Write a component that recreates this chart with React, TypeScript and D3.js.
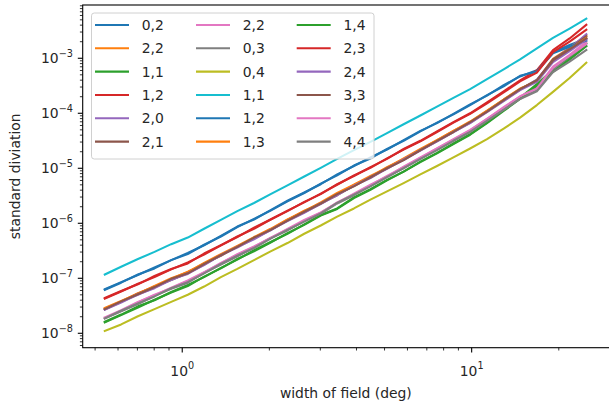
import React from "react";
import * as d3 from "d3";

// x: width of field (deg)
const widthDeg = [0.54, 0.615, 0.703, 0.802, 0.916, 1.045, 1.19, 1.36, 1.55, 1.77, 2.02, 2.31, 2.64, 3.01, 3.43, 3.92, 4.47, 5.1, 5.82, 6.65, 7.59, 8.65, 9.88, 11.3, 12.9, 14.7, 16.8, 19.1, 21.8, 24.9];

// standard deviation series (order as in legend)
const s02 = [6.31e-8, 8.51e-8, 1.15e-7, 1.58e-7, 2.14e-7, 2.88e-7, 3.98e-7, 5.89e-7, 8.71e-7, 1.17e-6, 1.74e-6, 2.57e-6, 3.63e-6, 5.13e-6, 7.76e-6, 1.10e-5, 1.58e-5, 2.19e-5, 3.24e-5, 4.79e-5, 6.61e-5, 9.77e-5, 1.45e-4, 2.09e-4, 3.24e-4, 4.68e-4, 6.03e-4, 1.29e-3, 1.74e-3, 2.29e-3];
const s22a = [2.82e-8, 3.80e-8, 5.37e-8, 6.92e-8, 9.77e-8, 1.32e-7, 1.82e-7, 2.69e-7, 3.72e-7, 5.50e-7, 7.76e-7, 1.15e-6, 1.70e-6, 2.29e-6, 3.39e-6, 5.01e-6, 6.92e-6, 1.05e-5, 1.48e-5, 2.19e-5, 3.24e-5, 4.79e-5, 6.92e-5, 1.10e-4, 1.78e-4, 2.75e-4, 3.98e-4, 9.77e-4, 1.55e-3, 2.63e-3];
const s11a = [1.62e-8, 2.19e-8, 3.09e-8, 3.98e-8, 5.62e-8, 7.59e-8, 1.05e-7, 1.55e-7, 2.19e-7, 3.24e-7, 4.57e-7, 6.46e-7, 9.55e-7, 1.41e-6, 1.86e-6, 2.95e-6, 4.17e-6, 6.17e-6, 8.71e-6, 1.32e-5, 1.91e-5, 2.82e-5, 4.17e-5, 6.76e-5, 1.15e-4, 1.91e-4, 3.39e-4, 6.17e-4, 1.05e-3, 1.86e-3];
const s12a = [4.37e-8, 5.89e-8, 7.76e-8, 1.10e-7, 1.48e-7, 1.86e-7, 2.82e-7, 3.98e-7, 5.62e-7, 8.32e-7, 1.17e-6, 1.66e-6, 2.45e-6, 3.39e-6, 5.13e-6, 7.24e-6, 1.05e-5, 1.48e-5, 2.24e-5, 3.16e-5, 4.68e-5, 6.92e-5, 1.00e-4, 1.58e-4, 2.51e-4, 3.98e-4, 6.03e-4, 1.41e-3, 2.29e-3, 4.07e-3];
const s20 = [2.69e-8, 3.72e-8, 5.01e-8, 6.76e-8, 9.55e-8, 1.20e-7, 1.78e-7, 2.63e-7, 3.63e-7, 5.25e-7, 7.41e-7, 1.12e-6, 1.58e-6, 2.24e-6, 3.31e-6, 4.79e-6, 6.61e-6, 1.00e-5, 1.41e-5, 2.09e-5, 3.09e-5, 4.57e-5, 6.76e-5, 1.07e-4, 1.70e-4, 2.69e-4, 4.07e-4, 9.33e-4, 1.51e-3, 2.75e-3];
const s21 = [2.75e-8, 3.72e-8, 5.25e-8, 7.08e-8, 9.33e-8, 1.26e-7, 1.86e-7, 2.57e-7, 3.80e-7, 5.37e-7, 7.59e-7, 1.15e-6, 1.62e-6, 2.34e-6, 3.24e-6, 4.90e-6, 6.76e-6, 1.02e-5, 1.45e-5, 2.14e-5, 3.16e-5, 4.68e-5, 6.76e-5, 1.10e-4, 1.74e-4, 2.69e-4, 3.89e-4, 9.55e-4, 1.48e-3, 2.51e-3];
const s22b = [1.91e-8, 2.57e-8, 3.63e-8, 5.01e-8, 6.61e-8, 8.91e-8, 1.26e-7, 1.91e-7, 2.69e-7, 3.72e-7, 5.50e-7, 7.76e-7, 1.12e-6, 1.55e-6, 2.40e-6, 3.39e-6, 4.90e-6, 7.24e-6, 1.05e-5, 1.55e-5, 2.29e-5, 3.31e-5, 4.90e-5, 7.94e-5, 1.26e-4, 2.00e-4, 2.88e-4, 7.08e-4, 1.15e-3, 2.00e-3];
const s03 = [1.86e-8, 2.51e-8, 3.39e-8, 4.79e-8, 6.46e-8, 8.32e-8, 1.26e-7, 1.78e-7, 2.51e-7, 3.63e-7, 5.37e-7, 7.41e-7, 1.10e-6, 1.48e-6, 2.29e-6, 3.24e-6, 4.79e-6, 6.92e-6, 1.02e-5, 1.48e-5, 2.19e-5, 3.16e-5, 4.68e-5, 7.41e-5, 1.17e-4, 1.86e-4, 2.63e-4, 6.17e-4, 9.77e-4, 1.66e-3];
const s04 = [1.10e-8, 1.45e-8, 2.04e-8, 2.75e-8, 3.72e-8, 5.01e-8, 7.08e-8, 1.05e-7, 1.48e-7, 2.14e-7, 3.09e-7, 4.37e-7, 6.46e-7, 9.12e-7, 1.32e-6, 1.86e-6, 2.69e-6, 3.80e-6, 5.37e-6, 7.76e-6, 1.10e-5, 1.58e-5, 2.29e-5, 3.39e-5, 5.25e-5, 8.32e-5, 1.41e-4, 2.45e-4, 4.37e-4, 8.32e-4];
const s11b = [1.17e-7, 1.62e-7, 2.24e-7, 3.02e-7, 4.17e-7, 5.50e-7, 7.94e-7, 1.15e-6, 1.66e-6, 2.34e-6, 3.39e-6, 4.90e-6, 7.08e-6, 1.02e-5, 1.48e-5, 2.14e-5, 3.02e-5, 4.37e-5, 6.31e-5, 9.12e-5, 1.32e-4, 1.91e-4, 2.75e-4, 4.17e-4, 6.31e-4, 9.55e-4, 1.51e-3, 2.34e-3, 3.47e-3, 5.25e-3];
const s12b = [6.17e-8, 8.32e-8, 1.17e-7, 1.51e-7, 2.14e-7, 2.75e-7, 4.07e-7, 5.75e-7, 8.51e-7, 1.20e-6, 1.70e-6, 2.51e-6, 3.55e-6, 5.25e-6, 7.41e-6, 1.12e-5, 1.51e-5, 2.24e-5, 3.16e-5, 4.68e-5, 6.76e-5, 9.55e-5, 1.41e-4, 2.14e-4, 3.09e-4, 4.79e-4, 5.75e-4, 1.23e-3, 1.62e-3, 2.09e-3];
const s13 = [2.88e-8, 3.89e-8, 5.25e-8, 7.24e-8, 1.00e-7, 1.29e-7, 1.91e-7, 2.75e-7, 3.89e-7, 5.62e-7, 7.94e-7, 1.17e-6, 1.66e-6, 2.40e-6, 3.55e-6, 5.01e-6, 7.24e-6, 1.02e-5, 1.51e-5, 2.24e-5, 3.24e-5, 4.79e-5, 7.08e-5, 1.12e-4, 1.78e-4, 2.82e-4, 3.80e-4, 8.91e-4, 1.45e-3, 2.34e-3];
const s14 = [1.58e-8, 2.14e-8, 2.95e-8, 4.07e-8, 5.50e-8, 7.24e-8, 1.07e-7, 1.51e-7, 2.24e-7, 3.09e-7, 4.47e-7, 6.61e-7, 9.33e-7, 1.38e-6, 1.82e-6, 2.88e-6, 4.07e-6, 6.03e-6, 8.71e-6, 1.29e-5, 1.86e-5, 2.75e-5, 4.07e-5, 6.61e-5, 1.10e-4, 1.82e-4, 3.16e-4, 5.62e-4, 9.55e-4, 1.66e-3];
const s23 = [4.27e-8, 5.75e-8, 7.94e-8, 1.05e-7, 1.45e-7, 1.95e-7, 2.69e-7, 3.98e-7, 5.75e-7, 7.94e-7, 1.17e-6, 1.70e-6, 2.40e-6, 3.47e-6, 5.01e-6, 7.41e-6, 1.02e-5, 1.51e-5, 2.19e-5, 3.09e-5, 4.57e-5, 6.76e-5, 9.77e-5, 1.51e-4, 2.40e-4, 3.80e-4, 5.50e-4, 1.29e-3, 2.00e-3, 3.31e-3];
const s24 = [2.69e-8, 3.63e-8, 5.13e-8, 6.61e-8, 9.33e-8, 1.23e-7, 1.74e-7, 2.63e-7, 3.72e-7, 5.13e-7, 7.59e-7, 1.10e-6, 1.55e-6, 2.29e-6, 3.24e-6, 4.79e-6, 6.92e-6, 9.77e-6, 1.45e-5, 2.14e-5, 3.09e-5, 4.57e-5, 6.61e-5, 1.05e-4, 1.66e-4, 2.63e-4, 3.72e-4, 8.51e-4, 1.35e-3, 2.19e-3];
const s33 = [2.75e-8, 3.80e-8, 5.13e-8, 6.92e-8, 9.77e-8, 1.23e-7, 1.82e-7, 2.63e-7, 3.72e-7, 5.50e-7, 7.59e-7, 1.12e-6, 1.62e-6, 2.29e-6, 3.39e-6, 4.68e-6, 6.92e-6, 1.00e-5, 1.41e-5, 2.14e-5, 3.16e-5, 4.57e-5, 6.92e-5, 1.07e-4, 1.74e-4, 2.75e-4, 3.98e-4, 9.12e-4, 1.45e-3, 2.29e-3];
const s34 = [1.95e-8, 2.63e-8, 3.72e-8, 4.90e-8, 6.76e-8, 9.12e-8, 1.29e-7, 1.86e-7, 2.75e-7, 3.80e-7, 5.37e-7, 7.94e-7, 1.15e-6, 1.58e-6, 2.34e-6, 3.47e-6, 5.01e-6, 7.08e-6, 1.07e-5, 1.58e-5, 2.29e-5, 3.39e-5, 5.01e-5, 7.94e-5, 1.29e-4, 2.04e-4, 2.82e-4, 6.76e-4, 1.10e-3, 1.82e-3];
const s44 = [1.86e-8, 2.57e-8, 3.47e-8, 4.68e-8, 6.61e-8, 8.51e-8, 1.23e-7, 1.82e-7, 2.57e-7, 3.55e-7, 5.25e-7, 7.59e-7, 1.07e-6, 1.51e-6, 2.34e-6, 3.31e-6, 4.68e-6, 6.92e-6, 1.00e-5, 1.48e-5, 2.14e-5, 3.16e-5, 4.57e-5, 7.24e-5, 1.15e-4, 1.82e-4, 2.51e-4, 5.62e-4, 8.71e-4, 1.41e-3];

const seriesLabels = ["0,2", "2,2", "1,1", "1,2", "2,0", "2,1", "2,2", "0,3", "0,4", "1,1", "1,2", "1,3", "1,4", "2,3", "2,4", "3,3", "3,4", "4,4"];
const seriesValues = [s02, s22a, s11a, s12a, s20, s21, s22b, s03, s04, s11b, s12b, s13, s14, s23, s24, s33, s34, s44];
const palette = ["#1f77b4", "#ff7f0e", "#2ca02c", "#d62728", "#9467bd", "#8c564b", "#e377c2", "#7f7f7f", "#bcbd22", "#17becf"];

const xMajorTicks = [1, 10];
const xMajorExp = ["0", "1"];
const yMajorTicks = [1e-8, 1e-7, 1e-6, 1e-5, 1e-4, 1e-3];
const yMajorExp = ["\u22128", "\u22127", "\u22126", "\u22125", "\u22124", "\u22123"];

const W = 609, H = 407;
const L = 82.7, R = 611, T = 5, B = 347.7;
const FONT = "DejaVu Sans, sans-serif";

export default function App() {
  const x = d3.scaleLog().domain([0.453, 30.3]).range([L, R]);
  const y = d3.scaleLog().domain([5.47e-9, 9.3e-3]).range([B, T]);

  const xMinor: number[] = [];
  for (let e = -1; e <= 1; e++) for (let m = 2; m <= 9; m++) {
    const v = m * Math.pow(10, e);
    if (v >= 0.453 && v <= 30.3) xMinor.push(v);
  }
  const yMinor: number[] = [];
  for (let e = -9; e <= -3; e++) for (let m = 2; m <= 9; m++) {
    const v = m * Math.pow(10, e);
    if (v >= 5.47e-9 && v <= 9.3e-3) yMinor.push(v);
  }

  const line = d3.line<number>()
    .x((_, i) => x(widthDeg[i]))
    .y((d) => y(d));

  const legX0 = [95, 196, 296.7];
  const rowY0 = 25, rowStep = 23.33;

  return (
    <svg width={W} height={H} style={{ position: "absolute", left: 0, top: 0 }} fontFamily={FONT}>
      <rect x={0} y={0} width={W} height={H} fill="#fff" />
      <defs>
        <clipPath id="plotclip">
          <rect x={L} y={T} width={R - L} height={B - T} />
        </clipPath>
      </defs>
      <g clipPath="url(#plotclip)">
        {seriesValues.map((vals, i) => (
          <path key={i} d={line(vals) || ""} fill="none" stroke={palette[i % 10]} strokeWidth={2.08} strokeLinejoin="round" strokeLinecap="square" />
        ))}
      </g>
      {/* spines */}
      <rect x={L} y={T} width={R - L} height={B - T} fill="none" stroke="#000" strokeWidth={1.1} />
      {/* x ticks */}
      {xMinor.map((v, i) => (
        <line key={"xm" + i} x1={x(v)} x2={x(v)} y1={B} y2={B + 2.8} stroke="#000" strokeWidth={0.8} />
      ))}
      {xMajorTicks.map((v, i) => (
        <g key={"xM" + i}>
          <line x1={x(v)} x2={x(v)} y1={B} y2={B + 4.9} stroke="#000" strokeWidth={1.1} />
          <text x={x(v)} y={375.5} textAnchor="middle" fontSize={13.9} fill="#262626">
            10<tspan dy={-6.5} fontSize={9.7}>{xMajorExp[i]}</tspan>
          </text>
        </g>
      ))}
      {/* y ticks */}
      {yMinor.map((v, i) => (
        <line key={"ym" + i} x1={L - 2.8} x2={L} y1={y(v)} y2={y(v)} stroke="#000" strokeWidth={0.8} />
      ))}
      {yMajorTicks.map((v, i) => (
        <g key={"yM" + i}>
          <line x1={L - 4.9} x2={L} y1={y(v)} y2={y(v)} stroke="#000" strokeWidth={1.1} />
          <text x={73} y={y(v) + 5} textAnchor="end" fontSize={13.9} fill="#262626">
            10<tspan dy={-6.5} fontSize={9.7}>{yMajorExp[i]}</tspan>
          </text>
        </g>
      ))}
      {/* axis labels */}
      <text x={(L + R) / 2 - 1} y={398} textAnchor="middle" fontSize={13.9} fill="#262626">width of field (deg)</text>
      <text transform={`translate(20,${(T + B) / 2}) rotate(-90)`} textAnchor="middle" fontSize={13.9} fill="#262626">standard diviation</text>
      {/* legend */}
      <rect x={91.5} y={13} width={282.5} height={146} rx={2.8} fill="#fff" fillOpacity={0.8} stroke="#d0d0d0" strokeWidth={1} />
      {seriesLabels.map((lab, i) => {
        const col = Math.floor(i / 6), row = i % 6;
        const cy = rowY0 + row * rowStep;
        const hx = legX0[col];
        return (
          <g key={"lg" + i}>
            <line x1={hx} x2={hx + 34} y1={cy} y2={cy} stroke={palette[i % 10]} strokeWidth={2.08} strokeLinecap="butt" />
            <text x={hx + 46.7} y={cy + 5} fontSize={13.9} fill="#262626">{lab}</text>
          </g>
        );
      })}
    </svg>
  );
}
